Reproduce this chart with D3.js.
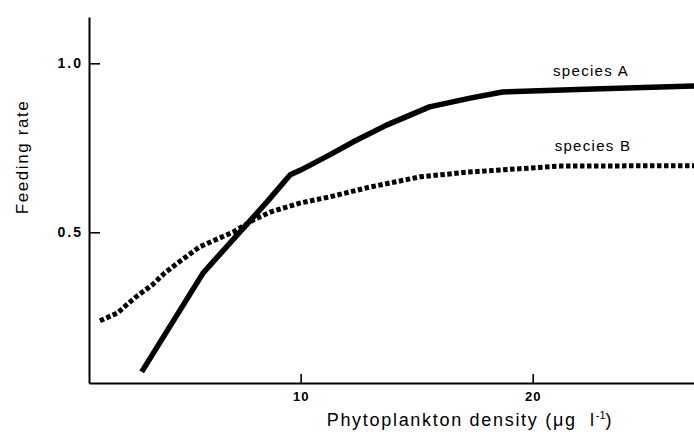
<!DOCTYPE html>
<html>
<head>
<meta charset="utf-8">
<script src="https://cdn.jsdelivr.net/npm/d3@7"></script>
<style>
  html, body { margin: 0; padding: 0; background: #fff; }
  svg { display: block; font-family: "Liberation Sans", Arial, sans-serif; }
  text { white-space: pre; }
</style>
</head>
<body>
<svg id="chart" width="694" height="444"></svg>
<script>
// phytoplankton density (ug/l) vs feeding rate
const densityA = [3.15, 5.8, 8.55, 9.55, 10.0, 11.25, 12.25, 13.7, 15.55, 17.3, 18.7, 22.6, 27.0]
const feedingA = [0.087, 0.38, 0.59, 0.67, 0.684, 0.729, 0.767, 0.817, 0.871, 0.897, 0.915, 0.924, 0.933]

const densityB = [1.35, 2.1, 2.85, 3.6, 4.15, 4.7, 5.65, 7.1, 7.95, 8.7, 10.0, 11.2, 13.0, 15.15, 17.2, 21.2, 27.0]
const feedingB = [0.238, 0.261, 0.306, 0.344, 0.38, 0.409, 0.457, 0.501, 0.536, 0.56, 0.587, 0.604, 0.634, 0.664, 0.678, 0.696, 0.697]

const xTicks = [10, 20]
const xTickLabels = ['10', '20']
const yTicks = [0.5, 1.0]
const yTickLabels = ['0.5', '1.0']
const seriesNames = ['species A', 'species B']

const svg = d3.select('#chart')
const m = { left: 89, right: 694, top: 17, bottom: 383 }

const x = d3.scaleLinear().domain([0.88, 26.95]).range([m.left, m.right])
const y = d3.scaleLinear().domain([0.054, 1.137]).range([m.bottom, m.top])

// axes
const xAxis = d3.axisBottom(x)
  .tickValues(xTicks)
  .tickFormat((d, i) => xTickLabels[i])
  .tickSizeInner(-9).tickSizeOuter(0).tickPadding(9)
const yAxis = d3.axisLeft(y)
  .tickValues(yTicks)
  .tickFormat((d, i) => yTickLabels[i])
  .tickSizeInner(-11).tickSizeOuter(0).tickPadding(6)

const gx = svg.append('g').attr('transform', `translate(0,${m.bottom})`).call(xAxis)
const gy = svg.append('g').attr('transform', `translate(${m.left},0)`).call(yAxis)
for (const g of [gx, gy]){
  g.select('.domain').attr('stroke', '#000').attr('stroke-width', 2)
  g.selectAll('.tick line').attr('stroke', '#000').attr('stroke-width', 1.6)
  g.selectAll('.tick text')
    .attr('fill', '#000')
    .attr('font-family', '"Liberation Sans", Arial, sans-serif')
    .attr('font-weight', 'bold')
}
gx.selectAll('.tick text').attr('font-size', 13).attr('letter-spacing', 1)
gy.selectAll('.tick text').attr('font-size', 14).attr('letter-spacing', 2)

// lines
const line = d3.line().x(d => x(d[0])).y(d => y(d[1]))
const ptsA = densityA.map((d, i) => [d, feedingA[i]])
const ptsB = densityB.map((d, i) => [d, feedingB[i]])

svg.append('path').datum(ptsB)
  .attr('d', line)
  .attr('fill', 'none').attr('stroke', '#000')
  .attr('stroke-width', 5).attr('stroke-dasharray', '4.5,2.5')

svg.append('path').datum(ptsA)
  .attr('d', line)
  .attr('fill', 'none').attr('stroke', '#000')
  .attr('stroke-width', 5.5).attr('stroke-linejoin', 'round')

// series labels
svg.append('text').attr('x', 591).attr('y', 76)
  .attr('text-anchor', 'middle').attr('font-size', 15).attr('letter-spacing', 1.3)
  .text(seriesNames[0])
svg.append('text').attr('x', 593).attr('y', 151)
  .attr('text-anchor', 'middle').attr('font-size', 15).attr('letter-spacing', 1.3)
  .text(seriesNames[1])

// axis titles
const xt = svg.append('text').attr('x', 470).attr('y', 426)
  .attr('text-anchor', 'middle').attr('font-size', 18).attr('letter-spacing', 1.7)
xt.append('tspan').text('Phytoplankton density (\u03bcg  l')
xt.append('tspan').attr('dy', -7).attr('font-size', 11).attr('letter-spacing', 0).text('-1')
xt.append('tspan').attr('dy', 7).text(')')

svg.append('text')
  .attr('transform', 'translate(28,157) rotate(-90)')
  .attr('text-anchor', 'middle').attr('font-size', 17).attr('letter-spacing', 1.6)
  .text('Feeding rate')
</script>
</body>
</html>
